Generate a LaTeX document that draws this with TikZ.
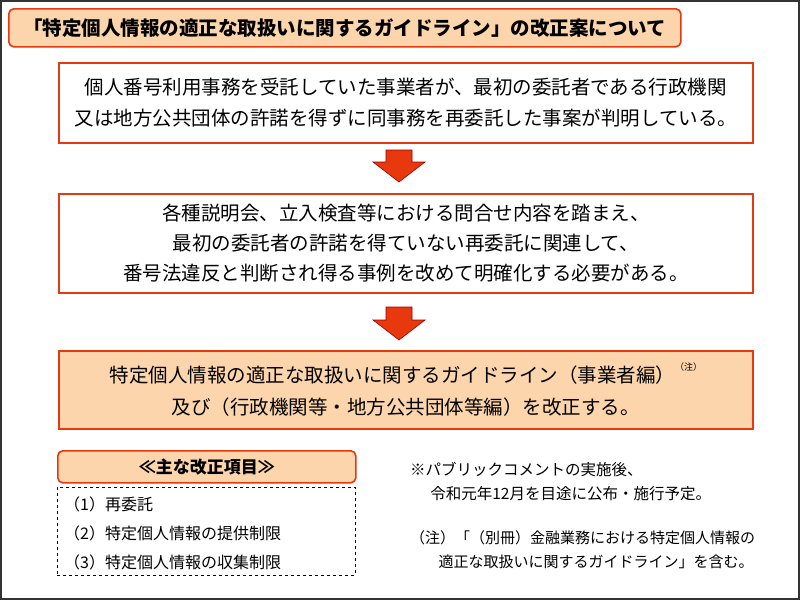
\documentclass[tikz,border=0pt]{standalone}
\usepackage{fontspec}
\newfontfamily\jp{Noto Sans CJK JP}
\usetikzlibrary{positioning}
\definecolor{redb}{HTML}{E8380D}
\definecolor{orf}{HTML}{FCD5AC}
\tikzset{
 box/.style={draw=redb,line width=1.6pt,fill=white,align=center,inner sep=0pt},
 obox/.style={box,fill=orf},
 rbox/.style={obox,rounded corners=5pt},
 txt/.style={align=left,anchor=north west,inner sep=0pt},
 barrow/.style={fill=redb,draw=red!60!black,line width=0.6pt}
}
\begin{document}
\begin{tikzpicture}[x=1pt,y=-1pt,font=\jp]
\path[draw=black!80,line width=2pt,fill=white] (1,1) rectangle (799,599);
\useasboundingbox (0,0) rectangle (800,600);
\node[rbox,minimum width=672pt,minimum height=38pt,anchor=north west,font=\jp\bfseries\fontsize{19.5}{22}\selectfont] (title) at (8,8) {「特定個人情報の適正な取扱いに関するガイドライン」の改正案について};
\node[box,minimum width=694pt,minimum height=80pt,anchor=north west,font=\jp\fontsize{19.5}{31}\selectfont] (b1) at (58,62) {個人番号利用事務を受託していた事業者が、最初の委託者である行政機関\\又は地方公共団体の許諾を得ずに同事務を再委託した事案が判明している。};
\node[box,minimum width=694pt,minimum height=99pt,anchor=north west,font=\jp\fontsize{19.5}{30}\selectfont] (b2) at (58,193) {各種説明会、立入検査等における問合せ内容を踏まえ、\\最初の委託者の許諾を得ていない再委託に関連して、\\番号法違反と判断され得る事例を改めて明確化する必要がある。};
\node[obox,minimum width=694pt,minimum height=78pt,anchor=north west,font=\jp\fontsize{19.5}{32}\selectfont] (b3) at (58,350) {特定個人情報の適正な取扱いに関するガイドライン（事業者編）\raisebox{0.6em}{\fontsize{9}{9}\selectfont（注）}\\及び（行政機関等・地方公共団体等編）を改正する。};
\path[barrow] (386,150) -- (412,150) -- (412,162) -- (425,162) -- (399,182) -- (373,162) -- (386,162) -- cycle;
\path[barrow] (386,307) -- (412,307) -- (412,320) -- (425,320) -- (399,340) -- (373,320) -- (386,320) -- cycle;
\node[rbox,minimum width=298pt,minimum height=32pt,anchor=north west,font=\jp\bfseries\fontsize{17}{20}\selectfont] (sub) at (57,450) {≪主な改正項目≫};
\node[draw,dashed,line width=0.8pt,minimum width=298pt,minimum height=88pt,anchor=north west] (list) at (57,487) {};
\node[txt,font=\jp\fontsize{16}{29}\selectfont] (items) at (64,497) {（1）再委託\\（2）特定個人情報の提供制限\\（3）特定個人情報の収集制限};
\node[txt,font=\jp\fontsize{15.5}{24}\selectfont] (note1) at (410,462) {※パブリックコメントの実施後、\\\hspace*{1.3em}令和元年12月を目途に公布・施行予定。};
\node[txt,font=\jp\fontsize{15}{24}\selectfont] (note2) at (410,530) {（注）「（別冊）金融業務における特定個人情報の\\\hspace*{1.9em}適正な取扱いに関するガイドライン」を含む。};
\end{tikzpicture}
\end{document}
